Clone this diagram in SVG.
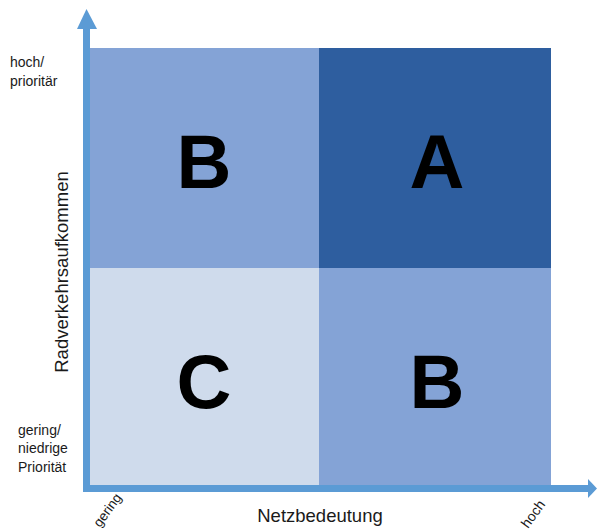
<svg xmlns="http://www.w3.org/2000/svg" width="597" height="532" viewBox="0 0 597 532">
<style>
.lbl{font-family:"Liberation Sans",Arial,sans-serif;fill:#1a1a1a}
.big{font-family:"Liberation Sans",Arial,sans-serif;font-weight:bold;font-size:76px;fill:#000;text-anchor:middle}
.ax{fill:#5B9BD5}
</style>
<rect width="597" height="532" fill="#fff"/>
<g id="quadrant-B-top">
<rect x="90" y="48" width="229" height="220" fill="#84A3D6"/>
<text class="big" x="204" y="188">B</text>
</g>
<g id="quadrant-A">
<rect x="319" y="48" width="232" height="220" fill="#2E5E9F"/>
<text class="big" x="437" y="188">A</text>
</g>
<g id="quadrant-C">
<rect x="90" y="268" width="229" height="218" fill="#CFDBEC"/>
<text class="big" x="204" y="408">C</text>
</g>
<g id="quadrant-B-bottom">
<rect x="319" y="268" width="232" height="218" fill="#84A3D6"/>
<text class="big" x="437" y="408">B</text>
</g>
<g id="axes">
<rect class="ax" x="83" y="28" width="7" height="464"/>
<polygon class="ax" points="86.5,9 77,29 97,29"/>
<rect class="ax" x="83" y="485" width="506" height="7"/>
<polygon class="ax" points="597,488.5 588,479 588,498"/>
</g>
<g id="labels">
<text class="lbl" x="10" y="67" font-size="14">hoch/</text>
<text class="lbl" x="10" y="86" font-size="14">prioritär</text>
<text class="lbl" x="18" y="435" font-size="14">gering/</text>
<text class="lbl" x="18" y="453" font-size="14">niedrige</text>
<text class="lbl" x="18" y="472" font-size="14">Priorität</text>
<text class="lbl" font-size="18.5" text-anchor="middle" transform="translate(68,272) rotate(-90)">Radverkehrsaufkommen</text>
<text class="lbl" font-size="18.5" text-anchor="middle" x="320" y="522">Netzbedeutung</text>
<text class="lbl" font-size="13.5" transform="translate(100,528) rotate(-54)">gering</text>
<text class="lbl" font-size="14" transform="translate(528,529) rotate(-54)">hoch</text>
</g>
</svg>
